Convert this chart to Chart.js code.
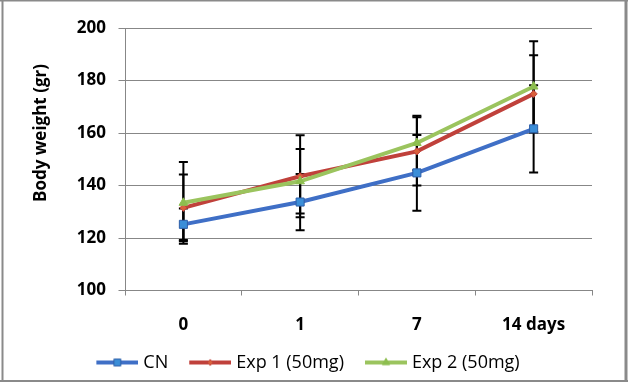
<!DOCTYPE html>
<html><head><meta charset="utf-8">
<script src="https://cdn.jsdelivr.net/npm/chart.js@4/dist/chart.umd.min.js"></script>
<style>html,body{margin:0;padding:0;background:#fff}canvas{display:block}</style>
</head><body>
<canvas id="c" width="628" height="382"></canvas>
<script>
// ---- data ----
const categories = ['0', '1', '7', '14 days'];
const seriesNames = ['CN', 'Exp 1 (50mg)', 'Exp 2 (50mg)'];
const cnValues   = [125.2, 133.7, 144.8, 161.6];
const cnErrors   = [6.0, 10.7, 14.4, 16.6];
const exp1Values = [131.5, 143.5, 153.0, 174.9];
const exp1Errors = [12.7, 15.6, 13.0, 14.7];
const exp2Values = [133.4, 141.6, 156.2, 177.7];
const exp2Errors = [15.6, 12.3, 10.4, 17.3];
const yMin = 100, yMax = 200, yStep = 20;
const yTitle = 'Body weight (gr)';

const FONT = "'Open Sans', sans-serif";
const GRID = '#878787';
const styles = [
  {line: '#3F6FC6', fill: '#3B8ED8', border: '#2F5FA8', point: 'rect', r: 5.7},
  {line: '#C0413B', fill: '#D9603C', border: '#C0413B', point: 'rectRot', r: 3.6},
  {line: '#9BC45E', fill: '#8DBE4F', border: '#8DBE4F', point: 'triangle', r: 5}
];
const errorSets = [cnErrors, exp1Errors, exp2Errors];
const valueSets = [cnValues, exp1Values, exp2Values];

const LEG_FONT = 18, LEG_PAD = 10, LEG_BOX = 49, ICON_W = 57;

function legendIcon(s) {
  const c = document.createElement('canvas');
  c.width = ICON_W; c.height = 14;
  const g = c.getContext('2d');
  const x0 = ICON_W - 42;
  g.strokeStyle = s.line; g.lineWidth = 4;
  g.beginPath(); g.moveTo(x0, 7); g.lineTo(ICON_W, 7); g.stroke();
  g.fillStyle = s.fill; g.strokeStyle = s.border; g.lineWidth = 1;
  Chart.helpers.drawPoint(g, {pointStyle: s.point, radius: s.r * 0.85, borderWidth: 1, rotation: 0}, x0 + 21, 7);
  return c;
}
const icons = styles.map(legendIcon);

const errorBarPlugin = {
  id: 'errorBars',
  beforeDatasetsDraw(chart) {
    const {ctx} = chart;
    const y = chart.scales.y;
    ctx.save();
    ctx.strokeStyle = '#000'; ctx.lineWidth = 2;
    errorSets.forEach((errs, di) => {
      const meta = chart.getDatasetMeta(di);
      meta.data.forEach((pt, i) => {
        const v = valueSets[di][i];
        const yt = y.getPixelForValue(v + errs[i]);
        const yb = y.getPixelForValue(v - errs[i]);
        const px = pt.x;
        ctx.beginPath();
        ctx.moveTo(px, yt); ctx.lineTo(px, yb);
        ctx.moveTo(px - 4.5, yt); ctx.lineTo(px + 4.5, yt);
        ctx.moveTo(px - 4.5, yb); ctx.lineTo(px + 4.5, yb);
        ctx.stroke();
      });
    });
    ctx.restore();
  }
};

const decorPlugin = {
  id: 'decor',
  afterDraw(chart) {
    const {ctx} = chart;
    ctx.save();
    ctx.fillStyle = '#000';
    ctx.font = 'bold 17px ' + FONT;
    ctx.textAlign = 'center'; ctx.textBaseline = 'middle';
    ctx.translate(41, 133); ctx.rotate(-Math.PI / 2);
    ctx.fillText(yTitle, 0, 0);
    ctx.restore();
    ctx.save();
    ctx.fillStyle = '#8a8a8a';
    ctx.fillRect(1.5, 0, 2, 382);
    ctx.fillRect(624.5, 0, 3, 382);
    ctx.fillRect(0, 0, 628, 1.5);
    ctx.fillRect(0, 380, 628, 2);
    ctx.restore();
  }
};

const defaultGen = Chart.defaults.plugins.legend.labels.generateLabels;
const PAD_L = 13;

new Chart(document.getElementById('c'), {
  type: 'line',
  data: {
    labels: categories,
    datasets: valueSets.map((vals, i) => ({
      label: seriesNames[i],
      data: vals,
      borderColor: styles[i].line,
      backgroundColor: styles[i].fill,
      pointBackgroundColor: styles[i].fill,
      pointBorderColor: styles[i].border,
      pointBorderWidth: 1,
      pointStyle: styles[i].point,
      pointRadius: styles[i].r,
      borderWidth: 4,
      tension: 0,
      fill: false,
      order: 2 - i
    }))
  },
  options: {
    responsive: false,
    animation: false,
    devicePixelRatio: 1,
    layout: {padding: {left: PAD_L, right: 36, top: 28, bottom: 0.5}},
    plugins: {
      tooltip: {enabled: false},
      legend: {
        position: 'bottom',
        labels: {
          usePointStyle: true,
          pointStyleWidth: LEG_BOX,
          padding: LEG_PAD,
          color: '#000',
          font: {family: FONT, size: LEG_FONT},
          sort: (a, b) => a.datasetIndex - b.datasetIndex,
          generateLabels(chart) {
            const items = defaultGen(chart);
            items.forEach(it => { it.pointStyle = icons[it.datasetIndex]; });
            return items;
          }
        }
      }
    },
    scales: {
      x: {
        offset: true,
        grid: {display: true, drawOnChartArea: false, drawTicks: true, tickLength: 5, offset: true, color: GRID},
        border: {display: true, color: GRID, width: 1},
        ticks: {color: '#000', font: {family: FONT, size: 17, weight: 'bold'}, padding: 19, maxRotation: 0, autoSkip: false},
        afterFit(s) { s.height = 53; }
      },
      y: {
        min: yMin, max: yMax,
        ticks: {stepSize: yStep, color: '#000', font: {family: FONT, size: 17, weight: 'bold'}, padding: 12.5},
        grid: {color: GRID, tickLength: 6.5},
        border: {display: true, color: GRID, width: 1},
        afterFit(s) { s.width = 125 - PAD_L; }
      }
    }
  },
  plugins: [errorBarPlugin, decorPlugin]
});
</script>
</body></html>
